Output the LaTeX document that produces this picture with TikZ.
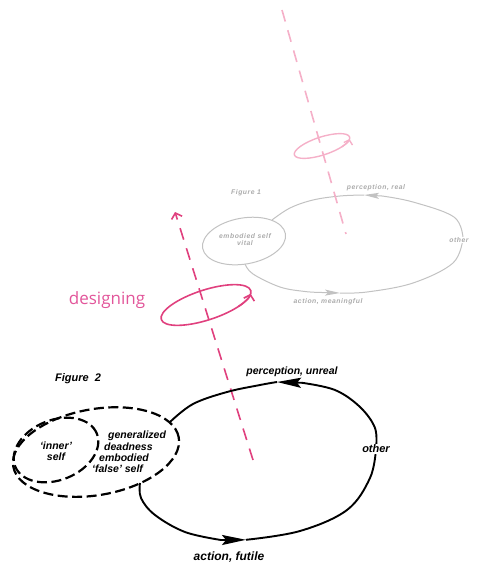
\documentclass[tikz,border=0pt]{standalone}
\usepackage{fontspec}
\setmainfont{Liberation Sans}
\newfontfamily\desfont{Open Sans}
\newfontfamily\figfont[LetterSpace=8]{Liberation Sans}
\usetikzlibrary{arrows.meta}
\definecolor{pinkA}{HTML}{E0407E}
\definecolor{pinkB}{HTML}{F5B0C8}
\definecolor{pinkT}{HTML}{E2559A}
\definecolor{grayL}{HTML}{C2C2C2}
\definecolor{grayT}{HTML}{ABABAB}
\tikzset{
  blk/.style={line width=1.9pt, draw=black},
  selfdash/.style={line width=2.2pt, draw=black, dash pattern=on 10pt off 4.5pt},
  pinkline/.style={line width=1.6pt, dash pattern=on 12pt off 9pt},
  blabel/.style={font=\fontsize{10.5}{11.5}\selectfont\bfseries\itshape, inner sep=1pt},
  glabel/.style={font=\figfont\fontsize{6.8}{7}\selectfont\bfseries\itshape, text=grayT, inner sep=1pt},
  garrow/.style={draw=grayL, fill=grayL, line width=1pt, -{Stealth[length=15pt,width=6pt,inset=3pt]}},
  barrow/.style={draw=black, line width=1.9pt, -{Stealth[length=24pt,width=10pt,inset=4pt]}},
  gline/.style={draw=grayL, line width=1pt},
  pbarb/.style={-{Straight Barb[length=5pt,width=11pt]}},
}
\begin{document}
\begin{tikzpicture}[x=1pt,y=-1pt]
\useasboundingbox (0,0) rectangle (480,567);

% ---------- Figure 1 (faded) ----------
\coordinate (gC) at (244,241);
\draw[gline, rotate around={10:(gC)}] (gC) ellipse[x radius=42pt, y radius=23pt];
\coordinate (gO) at (463,238);
\coordinate (gTipT) at (364,195);
\coordinate (gBaseT) at (382,196);
\coordinate (gTipB) at (340,293);
\coordinate (gBaseB) at (322,292.5);
\coordinate (gSelfT) at (272,220);
\coordinate (gSelfB) at (245,264);
\draw[gline] plot[smooth, tension=0.6] coordinates {(gO) (454,217) (413,202) (gBaseT)};
\draw[garrow] (gBaseT) -- (gTipT);
\draw[gline] plot[smooth, tension=0.6] coordinates {(gTipT) (340,196) (313,200) (290,208) (gSelfT)};
\draw[gline] plot[smooth, tension=0.6] coordinates {(gSelfB) (253,274) (280,287) (305,291.5) (gBaseB)};
\draw[garrow] (gBaseB) -- (gTipB);
\draw[gline] plot[smooth, tension=0.6] coordinates {(gTipB) (367,292) (413,283) (453,263) (gO)};
\node[glabel] (fig1) at (246,193) {Figure 1};
\node[glabel, align=center] (gself) at (245,240) {embodied self\\vital};
\node[glabel] (gperc) at (376,188) {perception, real};
\node[glabel, fill=white] (gother) at (459,240) {other};
\node[glabel] (gact) at (328,302) {action, meaningful};

% ---------- upper pink axis ----------
\coordinate (pa1) at (282,10);
\coordinate (pa2) at (346,234);
\draw[pinkB, pinkline] (pa1) -- (pa2);
\begin{scope}[shift={(322,146)}, rotate=18]
\draw[pinkB, line width=1.4pt] (0pt,0pt) ellipse[x radius=29pt, y radius=9pt];
\draw[pinkB, line width=1.4pt, -{Straight Barb[length=4pt,width=9pt]}] (-50:29pt and 9pt) arc[start angle=-50, end angle=-12, x radius=29pt, y radius=9pt];
\end{scope}

% ---------- lower pink axis ----------
\coordinate (pb1) at (253,460);
\coordinate (pb2) at (175,212);
\draw[pinkA, pinkline, pbarb] (pb1) -- (pb2);
\begin{scope}[shift={(206,305)}, rotate=18]
\draw[pinkA, line width=1.6pt] (0pt,0pt) ellipse[x radius=47pt, y radius=15pt];
\draw[pinkA, line width=1.6pt, pbarb] (-50:47pt and 15pt) arc[start angle=-50, end angle=-12, x radius=47pt, y radius=15pt];
\end{scope}
\node[text=pinkT, font=\desfont\fontsize{17}{20}\selectfont] (des) at (107,300) {designing};

% ---------- Figure 2 ----------
\coordinate (sO) at (96,452);
\coordinate (sI) at (56,450);
\draw[selfdash, rotate around={10:(sO)}] (sO) ellipse[x radius=84pt, y radius=43pt];
\draw[selfdash, rotate around={22:(sI)}] (sI) ellipse[x radius=44pt, y radius=30pt];

\coordinate (bO) at (376,449);
\coordinate (bTipT) at (277,382);
\coordinate (bBaseT) at (302,382.8);
\coordinate (bTipB) at (246,539.8);
\coordinate (bBaseB) at (221,540);
\coordinate (bSelfT) at (170,422);
\coordinate (bSelfB) at (140,483);
\draw[blk] plot[smooth, tension=0.6] coordinates {(bO) (375,428) (360,407) (335,390) (bBaseT)};
\draw[barrow] (bBaseT) -- (bTipT);
\draw[blk] plot[smooth, tension=0.6] coordinates {(bTipT) (260,385) (227,392) (193,404) (bSelfT)};
\draw[blk] plot[smooth, tension=0.6] coordinates {(bSelfB) (141,498) (155,515) (185,532) (bBaseB)};
\draw[barrow] (bBaseB) -- (bTipB);
\draw[blk] plot[smooth, tension=0.6] coordinates {(bTipB) (300,531) (347,510) (370,478) (bO)};

\node[blabel, font=\fontsize{11}{12}\selectfont\bfseries\itshape] (fig2) at (78,379) {Figure\ \ 2};
\node[blabel] (perc) at (292,372) {perception, unreal};
\node[blabel, font=\fontsize{11}{12}\selectfont\bfseries\itshape, fill=white, inner sep=0.5pt] (other) at (376,449) {other};
\node[blabel, font=\fontsize{12}{13}\selectfont\bfseries\itshape] (act) at (229,557) {action, futile};

\node[blabel, align=center] (inner) at (56,451) {`inner'\\self};
\node[blabel, anchor=west] (l1) at (107,436) {generalized};
\node[blabel, anchor=west] (l2) at (103,447) {deadness};
\node[blabel, anchor=west] (l3) at (98,458) {embodied};
\node[blabel, anchor=west] (l4) at (91,469) {`false' self};
\end{tikzpicture}
\end{document}
